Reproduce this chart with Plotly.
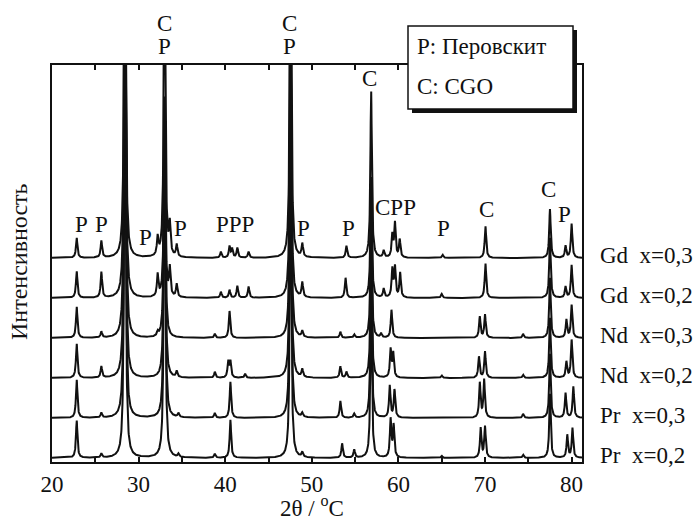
import numpy as np
import plotly.graph_objects as go

# ---- data: peak positions (2theta, deg) and heights (arb. units) ----
gd03_pos = [22.85, 25.7, 28.42, 32.2, 33.0, 33.6, 34.4, 39.5, 40.5, 40.8, 41.4, 42.7, 47.55, 48.9, 54.0, 56.85, 58.3, 59.3, 59.6, 60.15, 65.1, 70.05, 77.5, 79.3, 80.0]
gd03_hgt = [0.5, 0.42, 12, 0.45, 9, 0.75, 0.3, 0.15, 0.28, 0.22, 0.25, 0.15, 10, 0.33, 0.3, 4.2, 0.17, 0.55, 0.85, 0.45, 0.08, 0.8, 1.22, 0.3, 0.85]

gd02_pos = [22.85, 25.7, 28.42, 32.2, 33.0, 33.6, 34.4, 39.5, 40.5, 41.4, 42.7, 47.55, 48.9, 53.9, 56.85, 58.3, 59.3, 59.6, 60.2, 65.0, 70.05, 77.5, 79.3, 80.0]
gd02_hgt = [0.67, 0.64, 12, 0.55, 5, 0.7, 0.33, 0.15, 0.2, 0.3, 0.28, 8, 0.37, 0.5, 3.05, 0.22, 0.7, 0.75, 0.62, 0.1, 0.87, 1.5, 0.28, 0.82]

nd03_pos = [22.85, 25.7, 28.42, 32.2, 33.0, 38.8, 40.5, 47.55, 48.9, 53.3, 54.9, 56.85, 58.0, 59.2, 69.4, 70.0, 74.4, 77.5, 79.4, 80.0]
nd03_hgt = [0.78, 0.15, 12, 0.1, 6, 0.1, 0.67, 8, 0.15, 0.15, 0.08, 3.2, 0.1, 0.7, 0.53, 0.58, 0.1, 1.5, 0.45, 0.82]

nd02_pos = [22.85, 25.7, 28.42, 33.0, 34.4, 38.8, 40.35, 40.6, 42.3, 47.55, 48.9, 53.3, 54.0, 56.85, 59.1, 59.4, 65.0, 69.3, 70.0, 74.4, 77.5, 79.4, 80.0]
nd02_hgt = [0.86, 0.28, 12, 7, 0.15, 0.15, 0.4, 0.4, 0.1, 8, 0.2, 0.28, 0.15, 3.5, 0.7, 0.6, 0.06, 0.53, 0.66, 0.08, 1.5, 0.4, 0.95]

pr03_pos = [22.85, 25.7, 28.42, 33.0, 34.6, 38.8, 40.6, 47.55, 48.9, 53.3, 54.9, 56.85, 59.0, 59.55, 69.4, 69.9, 74.4, 77.5, 79.3, 80.2]
pr03_hgt = [0.96, 0.12, 12, 8, 0.1, 0.12, 0.9, 8, 0.1, 0.42, 0.1, 3.8, 0.8, 0.7, 0.87, 0.95, 0.1, 1.6, 0.62, 0.78]

pr02_pos = [22.85, 25.7, 28.42, 33.0, 34.6, 38.8, 40.6, 47.55, 48.9, 53.5, 54.9, 56.85, 59.1, 59.45, 65.0, 69.5, 70.0, 74.4, 77.5, 79.5, 80.1]
pr02_hgt = [0.94, 0.1, 12, 9, 0.08, 0.1, 0.95, 8, 0.12, 0.36, 0.2, 4.2, 0.95, 0.8, 0.05, 0.74, 0.78, 0.08, 1.6, 0.57, 0.74]

series_names = ["Pr\u00a0\u00a0x=0,2", "Pr\u00a0\u00a0x=0,3", "Nd\u00a0\u00a0x=0,2",
                "Nd\u00a0\u00a0x=0,3", "Gd\u00a0\u00a0x=0,2", "Gd\u00a0\u00a0x=0,3"]
series_pos = [pr02_pos, pr03_pos, nd02_pos, nd03_pos, gd02_pos, gd03_pos]
series_hgt = [pr02_hgt, pr03_hgt, nd02_hgt, nd03_hgt, gd02_hgt, gd03_hgt]
offsets = [0.1, 1.1, 2.1, 3.1, 4.1, 5.1]

peak_labels = ["P", "P", "P", "P", "PPP", "P", "P", "C", "CPP", "P", "C", "C", "P"]
peak_label_x = [23.4, 25.7, 30.8, 34.85, 41.1, 49.05, 54.25, 56.7, 59.7, 65.15, 70.2, 77.35, 79.2]
peak_label_ypx = [225, 225, 237, 228, 225, 228, 228, 78, 208, 228, 209, 189, 214]

# ---- layout geometry (pixels) ----
W, H = 698, 520
L, R, T, B = 52, 582, 65, 462
PW, PH = R - L, B - T
X0, X1 = 20, 81.2
Y1 = PH / 40.0


def px(x):
    return (x - L) / PW


def py(y):
    return (B - y) / PH


GAMMA = 0.1
xg = np.arange(X0, X1 + 1e-9, 0.02)

fig = go.Figure()
for name, pos, hgt, off in zip(series_names, series_pos, series_hgt, offsets):
    y = np.full_like(xg, off)
    for p, h in zip(pos, hgt):
        y = y + h / (1.0 + ((xg - p) / GAMMA) ** 2)
    fig.add_trace(go.Scatter(x=xg, y=y, mode="lines", name=name,
                             line=dict(color="#111111", width=2), showlegend=False,
                             hoverinfo="skip"))

serif = "Liberation Serif, Times New Roman, serif"
FS = 23
ann = []


def label(x, xref, y, text, size=FS, anchor="center", angle=0, yanchor="middle"):
    ann.append(dict(x=x, xref=xref, y=y, yref="paper", text=text, showarrow=False,
                    textangle=angle, font=dict(family=serif, size=size, color="#111"),
                    xanchor=anchor, yanchor=yanchor))


for t, x, ypx in zip(peak_labels, peak_label_x, peak_label_ypx):
    label(x, "x", py(ypx), t)
for x in [32.95, 47.45]:
    label(x, "x", py(23), "C")
    label(x, "x", py(47), "P")
label_ypx = [455, 415, 375, 335, 295, 256]
for name, ypx in zip(series_names, label_ypx):
    label(px(598), "paper", py(ypx), name, anchor="left")
label(px(415), "paper", py(47), "P: Перовскит", anchor="left")
label(px(415), "paper", py(87), "C: CGO", anchor="left")
label(px(312), "paper", py(523), "2θ / <sup>o</sup>C", yanchor="bottom")
label(px(19), "paper", py(262), "Интенсивность", size=24, angle=-90)

shapes = [
    dict(type="rect", xref="paper", yref="paper", x0=px(412), x1=px(577), y0=py(113), y1=py(30),
         fillcolor="#111", line=dict(width=0), layer="above"),
    dict(type="rect", xref="paper", yref="paper", x0=px(408), x1=px(573), y0=py(109), y1=py(26),
         fillcolor="white", line=dict(color="#111", width=1.5), layer="above"),
]

fig.update_layout(
    width=W, height=H, margin=dict(l=L, r=W - R, t=T, b=H - B),
    paper_bgcolor="white", plot_bgcolor="white",
    annotations=ann, shapes=shapes,
    xaxis=dict(range=[X0, X1], tickmode="linear", tick0=20, dtick=10,
               ticks="inside", ticklen=5, tickwidth=1.5, tickcolor="#111",
               minor=dict(tickmode="linear", tick0=25, dtick=10, ticks="inside",
                          ticklen=5, tickwidth=1.5, tickcolor="#111", showgrid=False),
               showline=True, linecolor="#111", linewidth=2, mirror="ticks",
               showgrid=False, zeroline=False,
               tickfont=dict(family=serif, size=FS, color="#111")),
    yaxis=dict(range=[0, Y1], showticklabels=False, ticks="", showline=True, linecolor="#111",
               linewidth=2, mirror=True, showgrid=False, zeroline=False),
)

fig.write_html("out.html")
